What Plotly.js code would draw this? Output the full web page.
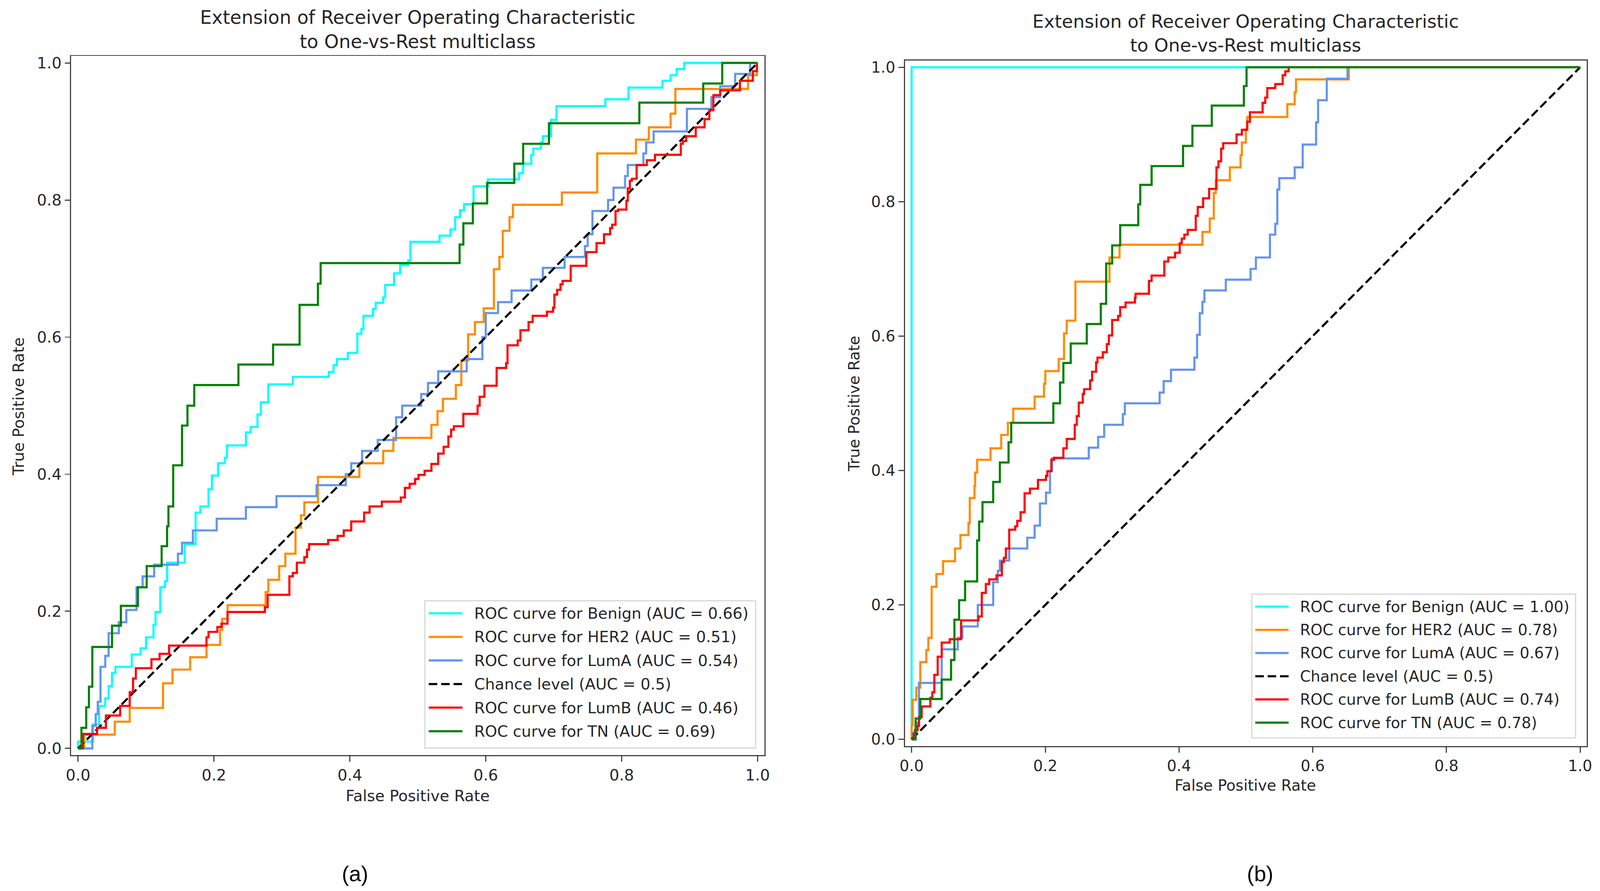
<!DOCTYPE html>
<html>
<head>
<meta charset="utf-8">
<script src="https://cdn.plot.ly/plotly-3.0.1.min.js"></script>
<style>html,body{margin:0;padding:0;background:#fff;overflow:hidden;width:100%;height:100%;}#chart{position:absolute;left:0;top:0;}</style>
</head>
<body>
<div id="chart"></div>
<script>
// ---------- Data ----------
const seriesNames = ["Benign", "HER2", "LumA", "LumB", "TN"];
const legendLeft = [
  "ROC curve for Benign (AUC = 0.66)",
  "ROC curve for HER2 (AUC = 0.51)",
  "ROC curve for LumA (AUC = 0.54)",
  "Chance level (AUC = 0.5)",
  "ROC curve for LumB (AUC = 0.46)",
  "ROC curve for TN (AUC = 0.69)"
];
const legendRight = [
  "ROC curve for Benign (AUC = 1.00)",
  "ROC curve for HER2 (AUC = 0.78)",
  "ROC curve for LumA (AUC = 0.67)",
  "Chance level (AUC = 0.5)",
  "ROC curve for LumB (AUC = 0.74)",
  "ROC curve for TN (AUC = 0.78)"
];
const panelTitle = "Extension of Receiver Operating Characteristic<br>to One-vs-Rest multiclass";
const xTitle = "False Positive Rate";
const yTitle = "True Positive Rate";
const panelLabels = ["(a)", "(b)"];
const chanceX = [0, 1];
const chanceY = [0, 1];
const tickVals = [0, 0.2, 0.4, 0.6, 0.8, 1.0];

// (a) left panel
const aBenignX = [0,0,0.022,0.031,0.040,0.045,0.050,0.055,0.079,0.092,0.100,0.111,0.114,0.121,0.128,0.131,0.157,0.173,0.180,0.192,0.197,0.206,0.216,0.219,0.247,0.254,0.264,0.269,0.280,0.316,0.369,0.376,0.381,0.397,0.411,0.417,0.420,0.434,0.438,0.449,0.452,0.465,0.474,0.486,0.489,0.532,0.548,0.555,0.562,0.568,0.582,0.603,0.649,0.655,0.667,0.670,0.681,0.684,0.696,0.704,0.776,0.810,0.860,0.872,0.881,0.892,1.0];
const aBenignY = [0,0.01,0.035,0.062,0.073,0.091,0.110,0.119,0.137,0.146,0.162,0.180,0.199,0.235,0.244,0.271,0.298,0.344,0.353,0.378,0.398,0.416,0.424,0.442,0.461,0.469,0.487,0.505,0.531,0.542,0.549,0.559,0.568,0.577,0.605,0.612,0.631,0.641,0.650,0.658,0.676,0.693,0.705,0.712,0.739,0.748,0.757,0.775,0.785,0.794,0.820,0.830,0.839,0.853,0.866,0.875,0.884,0.893,0.917,0.937,0.947,0.964,0.974,0.982,0.991,1.0,1.0];

const aHer2X = [0,0.009,0.054,0.076,0.125,0.139,0.165,0.189,0.209,0.212,0.220,0.276,0.280,0.296,0.305,0.320,0.328,0.333,0.353,0.414,0.449,0.464,0.520,0.529,0.537,0.556,0.564,0.574,0.584,0.597,0.612,0.620,0.625,0.635,0.640,0.712,0.764,0.821,0.840,0.872,0.879,0.986,0.999];
const aHer2Y = [0,0.020,0.039,0.059,0.095,0.115,0.133,0.151,0.173,0.189,0.209,0.228,0.246,0.266,0.284,0.322,0.340,0.359,0.396,0.416,0.434,0.453,0.472,0.492,0.510,0.530,0.566,0.604,0.622,0.642,0.699,0.717,0.755,0.775,0.793,0.811,0.868,0.888,0.906,0.926,0.962,0.982,1.0];

const aLumAX = [0,0.021,0.026,0.029,0.033,0.040,0.045,0.060,0.071,0.086,0.095,0.112,0.147,0.153,0.169,0.204,0.247,0.292,0.351,0.394,0.402,0.418,0.441,0.468,0.477,0.505,0.515,0.530,0.572,0.595,0.600,0.618,0.638,0.667,0.684,0.716,0.746,0.750,0.757,0.780,0.788,0.805,0.809,0.832,0.836,0.847,0.896,0.932,0.945,0.967,0.989,1.0];
const aLumAY = [0,0.033,0.050,0.068,0.119,0.135,0.168,0.184,0.202,0.235,0.251,0.268,0.284,0.300,0.318,0.335,0.352,0.368,0.384,0.400,0.416,0.434,0.450,0.483,0.500,0.517,0.533,0.550,0.568,0.600,0.635,0.651,0.668,0.684,0.701,0.717,0.733,0.750,0.784,0.800,0.818,0.835,0.851,0.868,0.884,0.900,0.933,0.950,0.966,0.984,1.0,1.0];

const aLumBX = [0,0.007,0.028,0.041,0.062,0.076,0.081,0.085,0.108,0.120,0.134,0.189,0.192,0.205,0.211,0.220,0.275,0.279,0.311,0.316,0.322,0.333,0.337,0.340,0.368,0.382,0.391,0.402,0.421,0.429,0.447,0.475,0.481,0.488,0.496,0.501,0.510,0.520,0.530,0.538,0.545,0.549,0.553,0.567,0.588,0.591,0.598,0.616,0.630,0.632,0.647,0.651,0.663,0.669,0.690,0.699,0.701,0.705,0.710,0.713,0.725,0.748,0.763,0.774,0.783,0.786,0.791,0.795,0.807,0.809,0.812,0.815,0.822,0.837,0.849,0.887,0.890,0.895,0.909,0.922,0.929,0.935,0.945,0.974,0.993,0.999];
const aLumBY = [0,0.021,0.030,0.048,0.062,0.082,0.102,0.117,0.130,0.138,0.150,0.162,0.170,0.177,0.182,0.199,0.206,0.224,0.251,0.256,0.271,0.279,0.290,0.298,0.304,0.310,0.318,0.331,0.344,0.353,0.360,0.366,0.380,0.386,0.393,0.399,0.405,0.415,0.430,0.440,0.455,0.465,0.470,0.488,0.500,0.513,0.529,0.555,0.562,0.588,0.595,0.610,0.622,0.631,0.637,0.643,0.662,0.669,0.677,0.682,0.704,0.724,0.737,0.750,0.759,0.764,0.784,0.786,0.799,0.817,0.828,0.831,0.851,0.858,0.866,0.882,0.886,0.893,0.906,0.918,0.931,0.953,0.960,0.974,0.988,1.0];

const aTnX = [0,0.005,0.012,0.016,0.021,0.050,0.063,0.088,0.101,0.123,0.131,0.133,0.140,0.153,0.161,0.171,0.236,0.287,0.326,0.353,0.357,0.5615,0.567,0.581,0.602,0.642,0.655,0.693,0.826,0.920,0.948,1.0];
const aTnY = [0,0.030,0.060,0.090,0.148,0.179,0.208,0.235,0.266,0.295,0.324,0.353,0.413,0.471,0.500,0.530,0.560,0.589,0.647,0.678,0.708,0.735,0.766,0.795,0.825,0.853,0.882,0.912,0.942,0.970,1.0,1.0];

// (b) right panel
const bBenignX = [0, 0, 1];
const bBenignY = [0, 1, 1];

const bHer2X = [0,0,0.0016,0.007,0.013,0.022,0.025,0.030,0.037,0.047,0.065,0.073,0.085,0.087,0.094,0.095,0.098,0.118,0.134,0.144,0.152,0.184,0.198,0.200,0.220,0.228,0.232,0.245,0.296,0.311,0.435,0.446,0.452,0.455,0.476,0.492,0.494,0.500,0.502,0.562,0.573,0.575,0.654,1.0];
const bHer2Y = [0,0.021,0.059,0.077,0.115,0.133,0.151,0.227,0.246,0.265,0.284,0.304,0.322,0.359,0.377,0.397,0.416,0.433,0.453,0.471,0.492,0.510,0.529,0.548,0.566,0.604,0.623,0.681,0.717,0.736,0.755,0.775,0.813,0.832,0.851,0.869,0.888,0.908,0.926,0.945,0.963,0.982,1.0,1.0];

const bLumAX = [0,0.002,0.008,0.011,0.045,0.069,0.076,0.099,0.122,0.129,0.132,0.146,0.173,0.184,0.192,0.201,0.207,0.210,0.265,0.279,0.288,0.316,0.319,0.371,0.377,0.388,0.423,0.427,0.431,0.435,0.438,0.470,0.507,0.515,0.536,0.544,0.547,0.550,0.573,0.585,0.605,0.608,0.621,0.652,1.0];
const bLumAY = [0,0.010,0.025,0.084,0.134,0.151,0.168,0.200,0.234,0.251,0.266,0.284,0.300,0.318,0.351,0.367,0.399,0.418,0.434,0.450,0.468,0.484,0.500,0.516,0.533,0.550,0.568,0.602,0.634,0.651,0.668,0.684,0.700,0.717,0.751,0.767,0.818,0.835,0.851,0.885,0.918,0.951,0.983,1.0,1.0];

const bLumBX = [0,0.003,0.005,0.009,0.011,0.015,0.028,0.031,0.034,0.039,0.045,0.057,0.074,0.100,0.105,0.111,0.116,0.127,0.135,0.138,0.141,0.146,0.155,0.158,0.163,0.169,0.177,0.189,0.201,0.203,0.209,0.213,0.227,0.232,0.244,0.247,0.250,0.256,0.258,0.267,0.270,0.276,0.278,0.286,0.292,0.295,0.300,0.309,0.312,0.320,0.334,0.335,0.355,0.359,0.378,0.384,0.394,0.401,0.404,0.408,0.413,0.425,0.428,0.436,0.445,0.456,0.459,0.463,0.466,0.486,0.494,0.502,0.506,0.525,0.529,0.532,0.544,0.555,0.559,0.564,1.0];
const bLumBY = [0,0.008,0.014,0.020,0.033,0.049,0.062,0.070,0.096,0.123,0.144,0.149,0.177,0.183,0.218,0.231,0.238,0.244,0.264,0.270,0.284,0.312,0.317,0.325,0.338,0.366,0.373,0.386,0.392,0.399,0.416,0.419,0.433,0.447,0.468,0.481,0.501,0.514,0.521,0.534,0.547,0.561,0.568,0.576,0.588,0.601,0.624,0.630,0.643,0.650,0.657,0.663,0.682,0.690,0.711,0.717,0.724,0.738,0.745,0.751,0.758,0.779,0.792,0.805,0.819,0.851,0.860,0.879,0.887,0.900,0.907,0.919,0.933,0.947,0.955,0.969,0.975,0.988,0.994,1.0,1.0];

const bTnX = [0,0.006,0.013,0.045,0.059,0.064,0.071,0.080,0.098,0.101,0.106,0.122,0.132,0.145,0.149,0.212,0.222,0.227,0.238,0.262,0.283,0.291,0.300,0.312,0.339,0.342,0.359,0.406,0.420,0.449,0.497,0.501,1.0];
const bTnY = [0,0.031,0.060,0.089,0.118,0.178,0.207,0.235,0.296,0.324,0.353,0.383,0.412,0.442,0.471,0.500,0.531,0.560,0.589,0.618,0.648,0.708,0.735,0.765,0.796,0.825,0.853,0.883,0.913,0.943,0.972,1.0,1.0];

// ---------- Page size (fit whatever viewport the page gets) ----------
const REF_W = 4131, REF_H = 2281;
const W = document.documentElement.clientWidth || window.innerWidth || REF_W;
const H = document.documentElement.clientHeight || window.innerHeight || REF_H;
const S = Math.min(W / REF_W, H / REF_H);
const chartDiv = document.getElementById("chart");
chartDiv.style.width = W + "px";
chartDiv.style.height = H + "px";

// ---------- Styling ----------
const legendColors = ["#00FFFF", "#FF8C00", "#6495ED", "#000000", "#FF0000", "#008000"];
const LW = 5.5 * S;
const DASH = (22 * S).toFixed(1) + "px," + (10 * S).toFixed(1) + "px";
const FONT = "DejaVu Sans";
const TXT = "#262626";
const FRAME = "#444444";
const px = v => v / REF_W;          // reference pixel -> paper x
const py = v => 1 - v / REF_H;      // reference pixel -> paper y

function roc(x, y, name, color, xa, ya) {
  return {type: "scatter", mode: "lines", x: x, y: y, name: name, showlegend: false,
    line: {color: color, width: LW, shape: "hv"}, xaxis: xa, yaxis: ya, hoverinfo: "skip"};
}
function chance(name, xa, ya) {
  return {type: "scatter", mode: "lines", x: chanceX, y: chanceY, name: name, showlegend: false,
    line: {color: "#000000", width: LW, dash: DASH}, xaxis: xa, yaxis: ya, hoverinfo: "skip"};
}

const traces = [
  roc(aBenignX, aBenignY, legendLeft[0], legendColors[0], "x", "y"),
  roc(aHer2X, aHer2Y, legendLeft[1], legendColors[1], "x", "y"),
  roc(aLumAX, aLumAY, legendLeft[2], legendColors[2], "x", "y"),
  chance(legendLeft[3], "x", "y"),
  roc(aLumBX, aLumBY, legendLeft[4], legendColors[4], "x", "y"),
  roc(aTnX, aTnY, legendLeft[5], legendColors[5], "x", "y"),
  roc(bBenignX, bBenignY, legendRight[0], legendColors[0], "x2", "y2"),
  roc(bHer2X, bHer2Y, legendRight[1], legendColors[1], "x2", "y2"),
  roc(bLumAX, bLumAY, legendRight[2], legendColors[2], "x2", "y2"),
  chance(legendRight[3], "x2", "y2"),
  roc(bLumBX, bLumBY, legendRight[4], legendColors[4], "x2", "y2"),
  roc(bTnX, bTnY, legendRight[5], legendColors[5], "x2", "y2")
];

function axis(domain, anchor, fs) {
  return {domain: domain, anchor: anchor, range: [-0.01, 1.01], autorange: false,
    showgrid: false, zeroline: false, showline: true, mirror: true,
    linecolor: FRAME, linewidth: 3 * S,
    ticks: "outside", ticklen: 14 * S, tickwidth: 3 * S, tickcolor: FRAME,
    tickvals: tickVals, tickformat: ".1f",
    tickfont: {family: FONT, size: fs * S, color: TXT}};
}

function ann(text, x, y, size, opts) {
  return Object.assign({text: text, x: x, y: y, xref: "paper", yref: "paper",
    showarrow: false, xanchor: "center", yanchor: "middle",
    font: {family: FONT, size: size * S, color: TXT}}, opts || {});
}

// matplotlib-style legend box (box, handles, labels)
function buildLegend(labels, spec, shapes, anns) {
  shapes.push({type: "rect", xref: "paper", yref: "paper",
    x0: px(spec.left), x1: px(spec.right), y0: py(spec.bottom), y1: py(spec.top),
    fillcolor: "rgba(255,255,255,0.9)", line: {color: "#d0d0d0", width: 2.5 * S}, layer: "above"});
  labels.forEach((lab, i) => {
    const yy = py(spec.row0 + i * spec.step);
    const isChance = i === 3;
    shapes.push({type: "line", xref: "paper", yref: "paper",
      x0: px(spec.h0), x1: px(spec.h1), y0: yy, y1: yy, layer: "above",
      line: {color: legendColors[i], width: LW, dash: isChance ? DASH : "solid"}});
    anns.push(ann(lab, px(spec.text), yy, spec.fs, {xanchor: "left"}));
  });
}

const shapes = [];
const annotations = [
  ann(panelTitle, 0.2611, 0.9668, 48),
  ann(panelTitle, 0.7785, 0.9625, 47),
  ann(xTitle, 0.2611, 0.1070, 40),
  ann(xTitle, 0.7783, 0.1184, 39.3),
  ann(yTitle, 0.01138, 0.5436, 40, {textangle: -90}),
  ann(yTitle, 0.5338, 0.5471, 39.3, {textangle: -90}),
  ann(panelLabels[0], 0.2220, 0.0193, 56, {font: {family: "Liberation Sans", size: 56 * S, color: "#000000"}}),
  ann(panelLabels[1], 0.7877, 0.0193, 56, {font: {family: "Liberation Sans", size: 56 * S, color: "#000000"}})
];
buildLegend(legendLeft, {left: 1097, right: 1951, top: 1538, bottom: 1915,
  row0: 1570, step: 60.4, h0: 1107, h1: 1194, text: 1222, fs: 40}, shapes, annotations);
buildLegend(legendRight, {left: 3232, right: 4068, top: 1521, bottom: 1889,
  row0: 1553, step: 59.4, h0: 3241, h1: 3327, text: 3354, fs: 39.3}, shapes, annotations);

const layout = {
  width: W, height: H,
  margin: {l: 0, r: 0, t: 0, b: 0},
  paper_bgcolor: "#ffffff", plot_bgcolor: "#ffffff",
  showlegend: false,
  xaxis: axis([0.04454, 0.47773], "y", 40),
  yaxis: axis([0.15235, 0.93709], "x", 40),
  xaxis2: axis([0.56558, 0.99177], "y2", 39.3),
  yaxis2: axis([0.16265, 0.93205], "x2", 39.3),
  shapes: shapes,
  annotations: annotations
};

Plotly.newPlot("chart", traces, layout, {displayModeBar: false, staticPlot: true});
</script>
</body>
</html>
